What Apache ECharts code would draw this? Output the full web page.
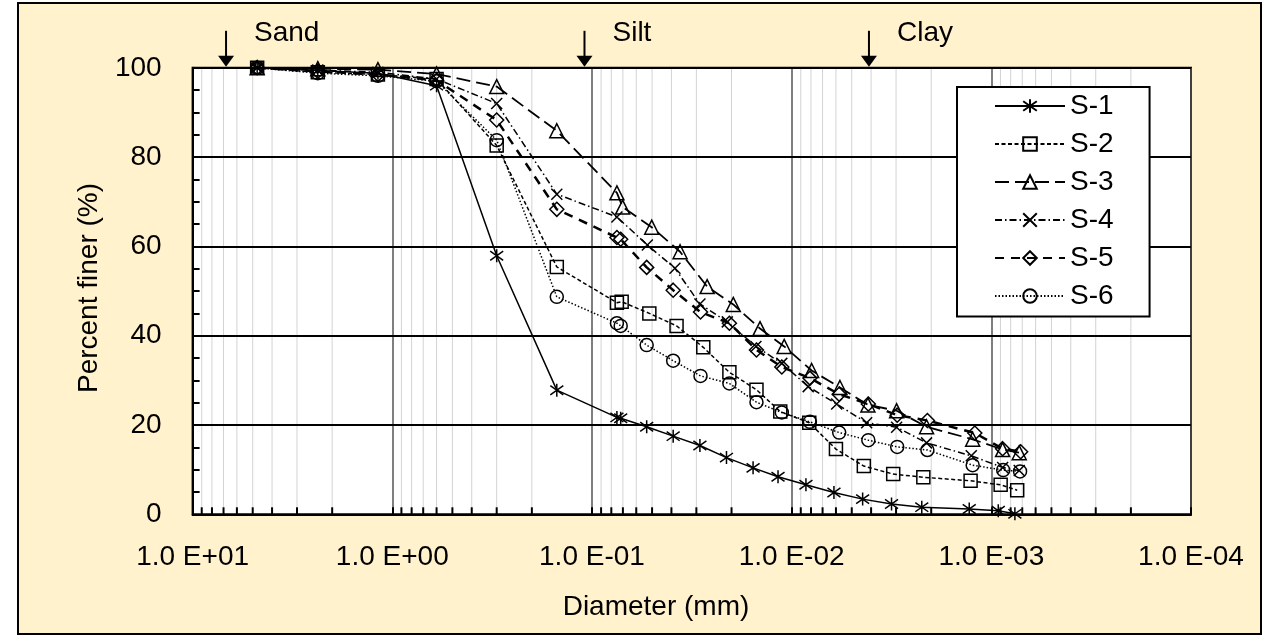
<!DOCTYPE html>
<html>
<head>
<meta charset="utf-8">
<script src="https://cdn.jsdelivr.net/npm/echarts@6/dist/echarts.min.js"></script>
<style>
html,body{margin:0;padding:0;background:#ffffff;}
#chart{width:1263px;height:636px;}
</style>
</head>
<body>
<div id="chart"></div>
<script>
// ---------------- DATA ----------------
const seriesNames = ['S-1', 'S-2', 'S-3', 'S-4', 'S-5', 'S-6'];

const s1Diam = [4.75, 2.36, 1.18, 0.6, 0.3, 0.15, 0.075, 0.0718, 0.0532, 0.0392, 0.0288, 0.0212, 0.0156, 0.0117, 0.00848, 0.00614, 0.00441, 0.00316, 0.00223, 0.00129, 0.000923, 0.000762];
const s1Pct  = [100, 99.4, 98.8, 96.0, 57.9, 27.8, 21.7, 21.5, 19.6, 17.5, 15.4, 12.7, 10.4, 8.4, 6.6, 4.9, 3.4, 2.3, 1.6, 1.2, 0.8, 0.1];

const s2Diam = [4.75, 2.36, 1.18, 0.6, 0.3, 0.15, 0.075, 0.0710, 0.0516, 0.0377, 0.0277, 0.0205, 0.0150, 0.0114, 0.00816, 0.0060, 0.00435, 0.0031, 0.00219, 0.00127, 0.000898, 0.000742];
const s2Pct  = [100, 99.0, 98.5, 97.5, 82.6, 55.4, 47.4, 47.6, 45.0, 42.2, 37.4, 31.8, 27.9, 23.0, 20.5, 14.6, 10.8, 9.0, 8.3, 7.5, 6.6, 5.4];

const s3Diam = [4.75, 2.36, 1.18, 0.6, 0.3, 0.15, 0.075, 0.0702, 0.0502, 0.0362, 0.0265, 0.0196, 0.0144, 0.0109, 0.00794, 0.00573, 0.00415, 0.00298, 0.00211, 0.00124, 0.000878, 0.000725];
const s3Pct  = [100, 99.8, 99.6, 98.6, 95.8, 85.9, 72.0, 68.8, 64.3, 58.8, 51.0, 47.0, 41.6, 37.6, 32.2, 28.4, 24.5, 23.2, 19.6, 16.8, 14.5, 13.8];

const s4Diam = [4.75, 2.36, 1.18, 0.6, 0.3, 0.15, 0.075, 0.0528, 0.0384, 0.0288, 0.0210, 0.0151, 0.0112, 0.00826, 0.00595, 0.00421, 0.00298, 0.00211, 0.00126, 0.000878, 0.000725];
const s4Pct  = [100, 99.5, 99.0, 97.5, 92.0, 71.7, 66.6, 60.3, 55.1, 47.1, 43.1, 37.6, 33.8, 28.6, 24.7, 20.5, 19.5, 16.0, 13.1, 10.5, 9.8];

const s5Diam = [4.75, 2.36, 1.18, 0.6, 0.3, 0.15, 0.075, 0.0718, 0.0532, 0.0392, 0.0286, 0.0205, 0.0150, 0.0112, 0.0081, 0.00578, 0.00413, 0.00296, 0.00209, 0.00121, 0.000878, 0.000713];
const s5Pct  = [100, 99.2, 98.5, 97.2, 88.3, 68.3, 62.0, 61.6, 55.3, 50.2, 45.3, 42.8, 36.8, 33.0, 30.5, 26.9, 24.7, 22.2, 21.0, 18.2, 14.7, 14.0];

const s6Diam = [4.75, 2.36, 1.18, 0.6, 0.3, 0.15, 0.075, 0.0718, 0.0532, 0.0392, 0.0286, 0.0205, 0.0150, 0.0112, 0.0081, 0.00578, 0.00413, 0.00296, 0.00209, 0.00124, 0.000872, 0.000718];
const s6Pct  = [100, 98.8, 98.2, 97.0, 83.8, 48.7, 42.8, 42.2, 37.9, 34.4, 31.0, 29.3, 25.1, 22.8, 20.7, 18.3, 16.6, 15.1, 14.4, 11.0, 9.9, 9.6];

const zoneNames = ['Sand', 'Silt', 'Clay'];
const zoneDiam  = [6.8, 0.109, 0.0041];

const xMin = 0.0001, xMax = 10;
const yMin = 0, yMax = 100, yStep = 20;
const yTitle = 'Percent finer (%)';
const xTitle = 'Diameter (mm)';

// minor log grid positions (2..9 of every decade)
const minorDiam = [];
for (let e = -4; e < 1; e++) {
  for (let k = 2; k <= 9; k++) minorDiam.push(k * Math.pow(10, e));
}

// ---------------- STYLE ----------------
const FONT = '"Liberation Sans", Arial, sans-serif';
const F28 = '28px "Liberation Sans", Arial, sans-serif';
const ASTERISK = 'path://M10,0L10,20M2.93,2.93L17.07,17.07M2.93,17.07L17.07,2.93';
const XMARK = 'path://M0,0L10,10M0,10L10,0';

const allDiam = [s1Diam, s2Diam, s3Diam, s4Diam, s5Diam, s6Diam];
const allPct = [s1Pct, s2Pct, s3Pct, s4Pct, s5Pct, s6Pct];
const symbols = [ASTERISK, 'rect', 'triangle', XMARK, 'diamond', 'circle'];
const symSizes = [13, 13, 14, 11, 14, 13];
const dashes = ['solid', [4, 2.5], [14, 6], [7, 3, 1.5, 3], [9, 7], [1.5, 2]];
const widths = [1.5, 1.5, 1.8, 1.5, 2.5, 1.5];

const lineSeries = seriesNames.map((name, i) => ({
  name: name,
  type: 'line',
  data: allDiam[i].map((d, j) => [d, allPct[i][j]]),
  symbol: symbols[i],
  symbolSize: symSizes[i],
  showSymbol: true,
  showAllSymbol: true,
  lineStyle: { color: '#000', width: widths[i], type: dashes[i] },
  itemStyle: { color: 'transparent', borderColor: '#000', borderWidth: 1.5 },
  emphasis: { disabled: true },
  z: 3 + i
}));

const minorSeries = {
  type: 'custom',
  name: 'minorGrid',
  coordinateSystem: 'cartesian2d',
  silent: true,
  clip: false,
  z: 1,
  data: minorDiam.map(d => [d, 0]),
  renderItem: function (params, api) {
    const d = api.value(0);
    const top = api.coord([d, yMax]);
    const bot = api.coord([d, yMin]);
    return {
      type: 'group',
      children: [
        { type: 'line', shape: { x1: top[0], y1: top[1] + 1, x2: bot[0], y2: bot[1] - 1 }, style: { stroke: '#d3d3d3', lineWidth: 1 } },
        { type: 'line', shape: { x1: bot[0], y1: bot[1] - 7, x2: bot[0], y2: bot[1] }, style: { stroke: '#000', lineWidth: 2 } }
      ]
    };
  }
};

const zoneSeries = {
  type: 'custom',
  name: 'zones',
  coordinateSystem: 'cartesian2d',
  silent: true,
  clip: false,
  z: 10,
  data: zoneDiam.map((d, i) => [d, yMax, i]),
  renderItem: function (params, api) {
    const p = api.coord([api.value(0), yMax]);
    const name = zoneNames[api.value(2)];
    return {
      type: 'group',
      children: [
        { type: 'line', shape: { x1: p[0], y1: p[1] - 37, x2: p[0], y2: p[1] - 10 }, style: { stroke: '#000', lineWidth: 2 } },
        { type: 'polygon', shape: { points: [[p[0] - 8, p[1] - 12], [p[0] + 8, p[1] - 12], [p[0], p[1] - 1]] }, style: { fill: '#000' } },
        { type: 'text', x: p[0] + 28, y: p[1] - 35, style: { text: name, font: F28, fill: '#000', align: 'left', verticalAlign: 'middle' } }
      ]
    };
  }
};

function expLabel(v) {
  const e = Math.round(Math.log10(v));
  const sign = e < 0 ? '-' : '+';
  const a = Math.abs(e);
  return '1.0 E' + sign + (a < 10 ? '0' + a : '' + a);
}

const option = {
  backgroundColor: '#ffffff',
  animation: false,
  textStyle: { fontFamily: FONT, color: '#000' },
  graphic: [
    { type: 'rect', z: -10, shape: { x: 18, y: 3, width: 1243, height: 631 }, style: { fill: '#FFF2CC', stroke: '#000', lineWidth: 2 } },
    { type: 'text', x: 89, y: 288, rotation: Math.PI / 2, style: { text: yTitle, font: F28, fill: '#000', align: 'center', verticalAlign: 'middle' } },
    { type: 'text', x: 656, y: 607, style: { text: xTitle, font: F28, fill: '#000', align: 'center', verticalAlign: 'middle' } }
  ],
  grid: {
    left: 192.6, right: 72, top: 67.8, bottom: 121.7,
    show: true, backgroundColor: '#ffffff', borderColor: '#000', borderWidth: 2,
    containLabel: false, outerBoundsMode: 'none'
  },
  legend: {
    orient: 'vertical',
    left: 957, top: 87,
    padding: [5, 36, 6.5, 37],
    itemWidth: 70, itemHeight: 17, itemGap: 10,
    backgroundColor: '#ffffff', borderColor: '#000', borderWidth: 2, borderRadius: 0,
    selectedMode: false,
    textStyle: { fontFamily: FONT, fontSize: 28, color: '#000' },
    data: seriesNames
  },
  xAxis: {
    type: 'log', logBase: 10, min: xMin, max: xMax, inverse: true,
    axisLine: { show: true, onZero: false, lineStyle: { color: '#000', width: 2 } },
    axisTick: { show: true, inside: true, length: 7, lineStyle: { color: '#000', width: 2 } },
    axisLabel: { fontSize: 28, color: '#000', fontFamily: FONT, margin: 29, formatter: expLabel },
    splitLine: { show: true, lineStyle: { color: '#555555', width: 1.5 } },
    minorTick: { show: false }, minorSplitLine: { show: false }
  },
  yAxis: {
    type: 'value', min: yMin, max: yMax, interval: yStep,
    z: 1.5,
    axisLine: { show: true, lineStyle: { color: '#000', width: 2 } },
    axisTick: { show: true, inside: true, length: 7, lineStyle: { color: '#000', width: 2 } },
    minorTick: { show: true, splitNumber: 4, length: 7, lineStyle: { color: '#000', width: 2 } },
    axisLabel: { fontSize: 28, color: '#000', fontFamily: FONT, margin: 31 },
    splitLine: { show: true, lineStyle: { color: '#000', width: 2 } }
  },
  series: [minorSeries].concat(lineSeries).concat([zoneSeries])
};

const chart = echarts.init(document.getElementById('chart'), null, { renderer: 'canvas' });
chart.setOption(option);
</script>
</body>
</html>
